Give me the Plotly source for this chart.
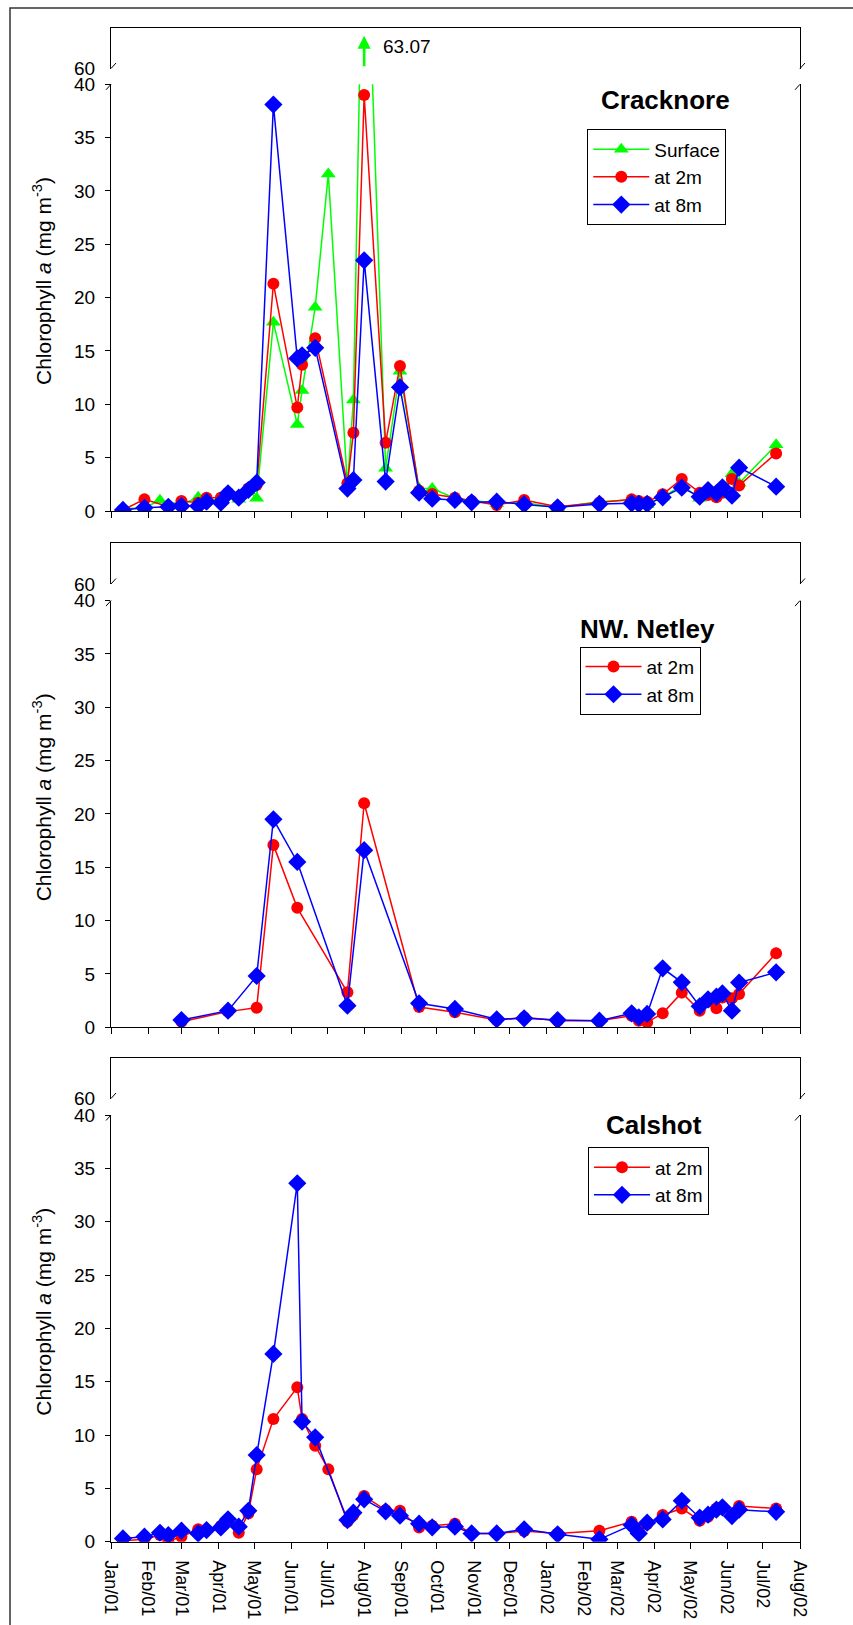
import plotly.graph_objects as go

# ---------------- data ----------------
surface_dates = ['2001-01-11','2001-01-29','2001-02-11','2001-03-01','2001-03-15','2001-03-22','2001-04-03',
                 '2001-04-09','2001-04-18','2001-04-26','2001-05-03','2001-05-17','2001-06-06','2001-06-10',
                 '2001-06-21','2001-07-02','2001-07-18','2001-07-23','2001-08-01','2001-08-19','2001-08-31',
                 '2001-09-16','2001-09-27','2001-10-16','2001-10-30','2001-11-20','2001-12-13','2002-01-10',
                 '2002-02-14','2002-03-13','2002-03-19','2002-03-26','2002-04-08','2002-04-24','2002-05-09',
                 '2002-05-16','2002-05-23','2002-05-28','2002-06-05','2002-06-11','2002-07-12']
cracknore_surface = [0.2,0.3,1.0,0.6,1.3,1.0,1.1,1.6,1.1,1.9,1.2,17.7,8.1,11.3,19.1,31.6,2.4,10.4,63.07,4.0,
                     13.1,2.1,2.1,1.2,1.0,0.7,0.8,0.3,0.9,1.0,0.8,0.6,1.3,2.4,1.2,1.6,1.5,1.9,3.5,2.6,6.2]

cracknore_dates = ['2001-01-11','2001-01-29','2001-02-18','2001-03-01','2001-03-15','2001-03-22','2001-04-03',
                   '2001-04-09','2001-04-18','2001-04-26','2001-05-03','2001-05-17','2001-06-06','2001-06-10',
                   '2001-06-21','2001-07-18','2001-07-23','2001-08-01','2001-08-19','2001-08-31','2001-09-16',
                   '2001-09-27','2001-10-16','2001-10-30','2001-11-20','2001-12-13','2002-01-10','2002-02-14',
                   '2002-03-13','2002-03-19','2002-03-26','2002-04-08','2002-04-24','2002-05-09','2002-05-16',
                   '2002-05-23','2002-05-28','2002-06-05','2002-06-11','2002-07-12']
cracknore_2m = [0.1,1.09,0.4,0.94,0.78,1.25,1.25,1.72,1.34,2.1,2.44,21.3,9.7,13.7,16.2,2.6,7.34,39.0,6.4,13.6,
                1.9,1.6,1.25,0.94,0.56,1.03,0.4,0.78,1.09,0.94,0.87,1.56,3.0,1.72,1.5,1.28,1.72,3.0,2.4,5.4]
cracknore_8m = [0.1,0.3,0.4,0.47,0.47,0.87,0.78,1.66,1.25,1.97,2.66,38.1,14.3,14.6,15.3,2.1,2.9,23.5,2.76,11.6,
                1.72,1.15,1.03,0.81,0.87,0.62,0.34,0.66,0.72,0.66,0.66,1.28,2.19,1.34,1.97,1.66,2.22,1.44,4.06,2.28]

netley_dates = ['2001-03-01','2001-04-09','2001-05-03','2001-05-17','2001-06-06','2001-07-18','2001-08-01',
                '2001-09-16','2001-10-16','2001-11-20','2001-12-13','2002-01-10','2002-02-14','2002-03-13',
                '2002-03-19','2002-03-26','2002-04-08','2002-04-24','2002-05-09','2002-05-16','2002-05-23',
                '2002-05-28','2002-06-05','2002-06-11','2002-07-12']
netley_2m = [0.53,1.47,1.84,17.1,11.2,3.28,21.0,1.9,1.41,0.68,0.94,0.62,0.62,1.09,0.62,0.47,1.31,3.25,1.56,2.4,
             1.78,2.8,2.72,3.12,6.93]
netley_8m = [0.68,1.56,4.81,19.5,15.5,2.03,16.6,2.25,1.72,0.75,0.84,0.68,0.62,1.31,0.94,1.25,5.53,4.22,1.97,2.62,
             2.87,3.18,1.56,4.19,5.15]

calshot_2m_dates = ['2001-01-11','2001-01-29','2001-02-11','2001-02-18','2001-03-01','2001-03-15','2001-03-22',
                    '2001-04-03','2001-04-09','2001-04-18','2001-04-26','2001-05-03','2001-05-17','2001-06-06',
                    '2001-06-10','2001-06-21','2001-07-02','2001-07-18','2001-07-23','2001-08-01','2001-08-19',
                    '2001-08-31','2001-09-16','2001-09-27','2001-10-16','2001-10-30','2001-11-20','2001-12-13',
                    '2002-01-10','2002-02-14','2002-03-13','2002-03-19','2002-03-26','2002-04-08','2002-04-24',
                    '2002-05-09','2002-05-16','2002-05-23','2002-05-28','2002-06-05','2002-06-11','2002-07-12']
calshot_2m = [0.1,0.22,0.62,0.05,0.47,1.16,1.09,1.47,1.87,0.84,2.65,6.78,11.5,14.47,11.5,9.0,6.78,1.87,2.5,4.28,
              2.97,2.9,1.34,1.5,1.69,0.78,0.78,1.0,0.78,1.03,1.87,1.1,1.66,2.5,3.12,1.97,2.34,3.12,3.22,2.59,
              3.34,3.12]
calshot_8m_dates = ['2001-01-11','2001-01-29','2001-02-11','2001-02-18','2001-03-01','2001-03-15','2001-03-22',
                    '2001-04-03','2001-04-09','2001-04-18','2001-04-26','2001-05-03','2001-05-17','2001-06-06',
                    '2001-06-10','2001-06-21','2001-07-18','2001-07-23','2001-08-01','2001-08-19','2001-08-31',
                    '2001-09-16','2001-09-27','2001-10-16','2001-10-30','2001-11-20','2001-12-13','2002-01-10',
                    '2002-02-14','2002-03-13','2002-03-19','2002-03-26','2002-04-08','2002-04-24','2002-05-09',
                    '2002-05-16','2002-05-23','2002-05-28','2002-06-05','2002-06-11','2002-07-12']
calshot_8m = [0.31,0.47,0.84,0.62,1.03,0.78,1.09,1.34,2.1,1.41,2.9,8.12,17.6,33.6,11.25,9.78,2.03,2.72,3.97,2.84,
              2.44,1.69,1.35,1.41,0.78,0.78,1.16,0.69,0.22,1.56,0.78,1.78,2.09,3.84,2.25,2.53,3.0,3.22,2.4,3.0,2.8]

station_names = ['Cracknore', 'NW. Netley', 'Calshot']
lower_ticks = [0, 5, 10, 15, 20, 25, 30, 35, 40]
upper_ticks = [60]
x_range = ['2001-01-01', '2002-08-01']

# ---------------- styling / layout ----------------
W, H = 853, 1625
ML, MR, MT, MB = 111, 53, 28, 83
PH = H - MT - MB
PW = W - ML - MR
FONT = 'Liberation Sans, Arial, sans-serif'
GREEN, RED, BLUE = '#00FF00', '#FF0000', '#0000FF'

def py(px):
    return (H - MB - px) / PH

def pxx(px):
    return (px - ML) / PW

# pixel geometry of each panel: top, y=60, y=40, y=0
panels = [(28, 68.5, 84.3, 511.0), (543.3, 584.0, 600.6, 1027.3), (1058.3, 1098.5, 1115.0, 1541.7)]

fig = go.Figure()

def add_series(x, y, name, color, symbol, size, ax_i, legend, showlegend=True):
    fig.add_trace(go.Scatter(
        x=x, y=y, name=name, mode='lines+markers',
        line=dict(color=color, width=1.5),
        marker=dict(color=color, symbol=symbol, size=size, line=dict(width=0)),
        xaxis='x' if ax_i == 1 else f'x{ax_i}', yaxis='y' if ax_i == 1 else f'y{ax_i}',
        legend=legend, showlegend=showlegend))

# panel 1
add_series(surface_dates, cracknore_surface, 'Surface', GREEN, 'triangle-up', 13, 1, 'legend')
add_series(cracknore_dates, cracknore_2m, 'at 2m', RED, 'circle', 12, 1, 'legend')
add_series(cracknore_dates, cracknore_8m, 'at 8m', BLUE, 'diamond', 14, 1, 'legend')
# panel 2
add_series(netley_dates, netley_2m, 'at 2m', RED, 'circle', 12, 3, 'legend2')
add_series(netley_dates, netley_8m, 'at 8m', BLUE, 'diamond', 14, 3, 'legend2')
# panel 3
add_series(calshot_2m_dates, calshot_2m, 'at 2m', RED, 'circle', 12, 5, 'legend3')
add_series(calshot_8m_dates, calshot_8m, 'at 8m', BLUE, 'diamond', 14, 5, 'legend3')
# empty traces to instantiate the upper (broken) axes
for k in (2, 4, 6):
    fig.add_trace(go.Scatter(x=[], y=[], xaxis=f'x{k}', yaxis=f'y{k}', showlegend=False))

ytickfont = dict(family=FONT, size=19, color='black')
xtickfont = dict(family=FONT, size=18, color='black')
layout = dict(
    width=W, height=H, margin=dict(l=ML, r=MR, t=MT, b=MB, autoexpand=False),
    paper_bgcolor='white', plot_bgcolor='white', font=dict(family=FONT, color='black'),
)

shapes = []
annotations = []
for p, (top, y60, y40, y0) in enumerate(panels):
    lo = 2 * p + 1
    up = 2 * p + 2
    lo_name = '' if lo == 1 else str(lo)
    up_name = str(up)
    # lower axes
    layout[f'xaxis{lo_name}'] = dict(
        range=x_range, type='date', anchor=f'y{lo_name}', showline=True, linecolor='black', linewidth=1,
        ticks='outside', ticklen=6, tickcolor='black', dtick='M1', tick0='2001-01-01',
        tickformat='%b/%y', tickangle=90, showticklabels=(p == 2), tickfont=xtickfont,
        ticklabelstandoff=8, showgrid=False, zeroline=False, automargin=False,
        matches=None if lo == 1 else 'x')
    layout[f'yaxis{lo_name}'] = dict(
        domain=[py(y0), py(y40)], range=[0, 40], anchor=f'x{lo_name}', showline=True, mirror=True,
        linecolor='black', linewidth=1, ticks='outside', ticklen=5, tickcolor='black',
        tickvals=lower_ticks, tickfont=ytickfont, ticklabelstandoff=6, showgrid=False, zeroline=False,
        automargin=False)
    # upper axes
    layout[f'xaxis{up_name}'] = dict(
        range=x_range, type='date', anchor=f'y{up_name}', side='top', showline=True, linecolor='black',
        linewidth=1, ticks='', showticklabels=False, showgrid=False, zeroline=False, matches='x',
        automargin=False)
    layout[f'yaxis{up_name}'] = dict(
        domain=[py(y60), py(top)], range=[60, 60 + (y60 - top) / 10.67], anchor=f'x{up_name}',
        showline=True, mirror=True, linecolor='black', linewidth=1, ticks='outside', ticklen=5,
        tickcolor='rgba(0,0,0,0)', tickvals=upper_ticks, tickfont=ytickfont, ticklabelstandoff=6,
        showgrid=False, zeroline=False, automargin=False)
    # axis-break slashes
    for xa in (0, 1):
        for yref, yanc in ((f'y{up_name}', 60), (f'y{lo_name}', 40)):
            shapes.append(dict(type='line', xref='paper', yref=yref, xsizemode='pixel', ysizemode='pixel',
                               xanchor=xa, yanchor=yanc, x0=-5, x1=5, y0=-5.5, y1=5.5,
                               line=dict(color='black', width=1)))
    # y-axis title
    annotations.append(dict(
        text='Chlorophyll <i>a</i> (mg m<sup>-3</sup>)', xref='paper', yref='paper',
        x=pxx(42), y=py(y0 - 230), textangle=-90, showarrow=False, xanchor='center', yanchor='middle',
        font=dict(family=FONT, size=21, color='black')))

# station titles
title_pos = [(665, 100), (647.6, 629), (653.6, 1125)]
for name, (tx, ty) in zip(station_names, title_pos):
    annotations.append(dict(text=f'<b>{name}</b>', xref='paper', yref='paper', x=pxx(tx), y=py(ty),
                            xanchor='center', yanchor='middle', showarrow=False,
                            font=dict(family=FONT, size=26, color='black')))

# off-scale surface value arrow and label
i_peak = max(range(len(cracknore_surface)), key=lambda i: cracknore_surface[i])
peak_x, peak_y = surface_dates[i_peak], cracknore_surface[i_peak]
annotations.append(dict(x=peak_x, y=peak_y, xref='x2', yref='y2', text='', showarrow=True,
                        ax=0, ay=32, arrowcolor=GREEN, arrowhead=2, arrowsize=1.0, arrowwidth=2.6))
annotations.append(dict(x=peak_x, y=peak_y, xref='x2', yref='y2', text=f'{peak_y:.2f}', showarrow=False,
                        xanchor='left', yanchor='middle', xshift=17, yshift=-11,
                        font=dict(family=FONT, size=19, color='black')))

# outer frame
shapes.append(dict(type='rect', xref='paper', yref='paper', x0=pxx(10), x1=pxx(900), y0=py(1700), y1=py(8),
                   line=dict(color='#333333', width=1.5), layer='below'))

legend_style = dict(xanchor='left', yanchor='top', bordercolor='black', borderwidth=1, bgcolor='white',
                    font=dict(family=FONT, size=19, color='black'), itemwidth=56, tracegroupgap=0)
layout['legend'] = dict(x=pxx(587.3), y=py(129.3), **legend_style)
layout['legend2'] = dict(x=pxx(579.5), y=py(646.7), **legend_style)
layout['legend3'] = dict(x=pxx(588), y=py(1147.3), **legend_style)
layout['shapes'] = shapes
layout['annotations'] = annotations

fig.update_layout(**layout)
fig.write_html('out.html')
